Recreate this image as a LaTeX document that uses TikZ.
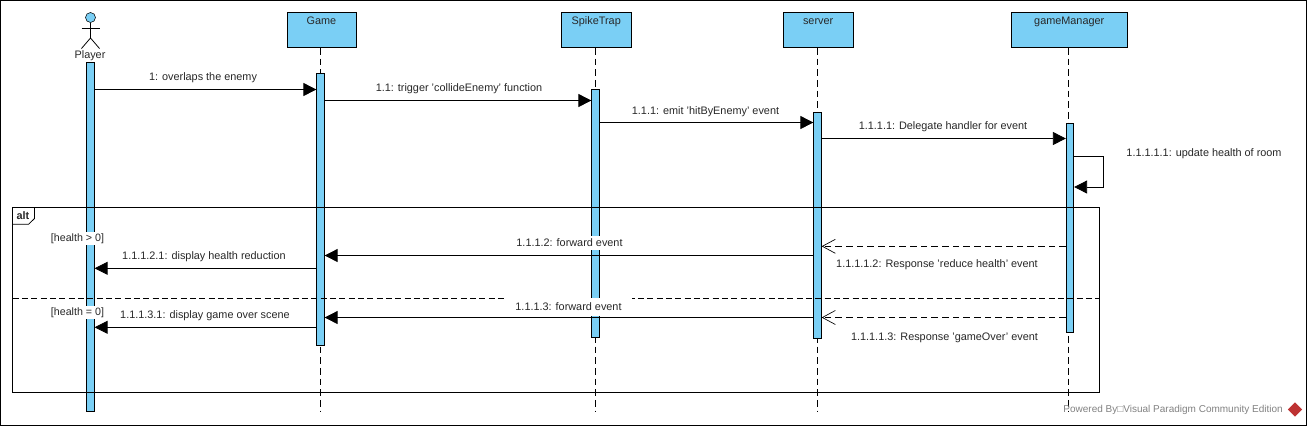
\documentclass[tikz,border=0pt]{standalone}
\usepackage{fontspec}
\setmainfont{Liberation Sans}
\usepackage{tikz}
\usetikzlibrary{arrows.meta,positioning,calc,shapes.geometric}

\definecolor{vpblue}{RGB}{122,207,245}
\definecolor{vptext}{RGB}{40,40,40}
\definecolor{vpgrey}{RGB}{130,130,130}
\definecolor{vpred}{RGB}{190,50,50}

\tikzset{
  headbox/.style={draw=black,fill=vpblue,inner sep=0pt,minimum height=26.25pt,anchor=north west,text height=6pt,text depth=14pt,text=vptext,font=\fontsize{8.15}{9}\selectfont},
  actbar/.style={draw=black,fill=vpblue,inner sep=0pt,minimum width=5.6pt,anchor=north,line width=0.6pt},
  msgline/.style={line width=0.6pt,-{Triangle[length=9.75pt,width=9.75pt]}},
  retline/.style={line width=0.6pt,dash pattern=on 5pt off 3pt,-{Straight Barb[length=9.75pt,width=10.5pt,line width=0.5pt]}},
  lifeline/.style={line width=0.6pt,dash pattern=on 5pt off 3pt},
  msglabel/.style={inner sep=0pt,text=vptext,font=\fontsize{8.15}{9}\selectfont},
  guardlabel/.style={fill=white,inner sep=1pt,text=vptext,font=\fontsize{8}{9}\selectfont}
}

\begin{document}
\begin{tikzpicture}[x=0.75pt,y=-0.75pt]
  \useasboundingbox (0,0) rectangle (1307,426);
  \draw[line width=1pt,fill=white] (0.5,0.5) rectangle (1306.5,425.5); % outer frame

  % header boxes
  \node[headbox,minimum width=52pt] (boxGame) at (286.5,12.3) {Game};
  \node[headbox,minimum width=52pt] (boxSpike) at (561.3,12.3) {SpikeTrap};
  \node[headbox,minimum width=52pt] (boxServer) at (783.2,12.3) {server};
  \node[headbox,minimum width=86.5pt] (boxManager) at (1011.3,12.3) {gameManager};

  % actor
  \node[circle,draw=black,fill=vpblue,inner sep=0pt,minimum size=7.5pt] (playerHead) at (90.5,17.5) {};
  \coordinate (playerHip) at (90.5,38);
  \draw[line width=0.6pt] (playerHead.south) -- (playerHip); % body
  \draw[line width=0.6pt] (81.5,28.5) -- (99.5,28.5); % arms
  \draw[line width=0.6pt] (81.5,48.5) -- (playerHip) -- (99.5,48.5); % legs
  \node[msglabel] (playerName) at (90,55.5) {Player};

  % activation bars
  \coordinate (endGame) at (320.3,412);
  \coordinate (endSpike) at (595.3,412);
  \coordinate (endServer) at (817.2,412);
  \coordinate (endManager) at (1068.4,412);
  \draw[lifeline] (boxGame.south -| endGame) -- (endGame); % Game lifeline
  \draw[lifeline] (boxSpike.south -| endSpike) -- (endSpike); % SpikeTrap lifeline
  \draw[lifeline] (boxServer.south -| endServer) -- (endServer); % server lifeline
  \draw[lifeline] (boxManager.south -| endManager) -- (endManager); % gameManager lifeline
  \node[actbar,minimum height=261.75pt] (barPlayer) at (90.5,62) {};
  \node[actbar,minimum height=204pt] (barGame) at (320.5,73) {};
  \node[actbar,minimum height=186pt] (barSpike) at (595.5,89) {};
  \node[actbar,minimum height=169.5pt] (barServer) at (817.5,112) {};
  \node[actbar,minimum height=156.75pt] (barManager) at (1070,123) {};

  % alt frame
  \draw[line width=0.6pt] (12.5,207.3) rectangle (1099.5,392.3);
  \draw[line width=0.6pt] (12.5,224.3) -- (28.5,224.3) -- (34.5,218.5) -- (34.5,207.3);
  \node[msglabel,font=\fontsize{8.15}{9}\selectfont\bfseries] (altName) at (23,215.5) {alt};
  \draw[line width=0.6pt,dash pattern=on 4.5pt off 2.5pt] (12.5,298.4) -- (1099.5,298.4); % operand separator

  % guards
  \node[guardlabel] (guardAlive) at (77.5,238.5) {[health > 0]};
  \node[guardlabel] (guardDead) at (77.5,312.5) {[health = 0]};

  % messages
  \draw[msgline] (barPlayer.east |- 0,89.5) -- (barGame.west |- 0,89.5);
  \draw[msgline] (barGame.east |- 0,100.5) -- (barSpike.west |- 0,100.5);
  \draw[msgline] (barSpike.east |- 0,122.5) -- (barServer.west |- 0,122.5);
  \draw[msgline] (barServer.east |- 0,138.5) -- (barManager.west |- 0,138.5);
  \draw[msgline] (barManager.east |- 0,156.3) -| (1103.8,187) -- (barManager.east |- 0,187);
  \draw[retline] (barManager.west |- 0,246.3) -- (barServer.east |- 0,246.3);
  \draw[msgline] (barServer.west |- 0,255.5) -- (barGame.east |- 0,255.5);
  \draw[msgline] (barGame.west |- 0,268.3) -- (barPlayer.east |- 0,268.3);
  \draw[retline] (barManager.west |- 0,317.5) -- (barServer.east |- 0,317.5);
  \draw[msgline] (barServer.west |- 0,317.5) -- (barGame.east |- 0,317.5);
  \draw[msgline] (barGame.west |- 0,327.3) -- (barPlayer.east |- 0,327.3);

  % message labels
  \node[msglabel] (msgOverlap) at (203,77.5) {1: overlaps the enemy};
  \node[msglabel] (msgTrigger) at (459,88.5) {1.1: trigger 'collideEnemy' function};
  \node[msglabel] (msgEmit) at (705.5,111.5) {1.1.1: emit 'hitByEnemy' event};
  \node[msglabel] (msgDelegate) at (943,127) {1.1.1.1: Delegate handler for event};
  \node[msglabel] (msgUpdate) at (1204,153.5) {1.1.1.1.1: update health of room};
  \node[msglabel,fill=white,minimum height=10.5pt] (msgForwardA) at (569.5,243) {1.1.1.2: forward event};
  \node[msglabel] (msgReduce) at (937,264.5) {1.1.1.1.2: Response 'reduce health' event};
  \node[msglabel] (msgDisplayA) at (204,256.5) {1.1.1.2.1: display health reduction};
  \node[msglabel,fill=white,minimum width=95pt,minimum height=13.5pt] (msgForwardB) at (568.5,306.5) {1.1.1.3: forward event};
  \node[msglabel] (msgOver) at (944.5,337.5) {1.1.1.1.3: Response 'gameOver' event};
  \node[msglabel] (msgDisplayB) at (205,315.5) {1.1.1.3.1: display game over scene};

  % watermark
  \node[msglabel,text=vpgrey,font=\fontsize{7.5}{9}\selectfont,anchor=east] (mark) at (1283,409.5) {Powered By□Visual Paradigm Community Edition};
  \node[diamond,fill=vpred,inner sep=0pt,minimum size=11pt] (markLogo) at (1295,409.5) {};
\end{tikzpicture}
\end{document}
